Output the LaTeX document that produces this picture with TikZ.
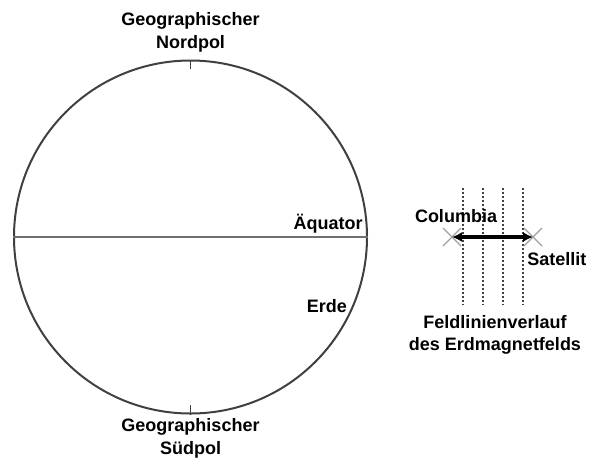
\documentclass[tikz,border=0pt]{standalone}
\usepackage{fontspec}
\setmainfont{Liberation Sans}
\usetikzlibrary{arrows.meta, positioning, calc}
\usepackage{xcolor}
\definecolor{linegray}{HTML}{404040}
\definecolor{eqgray}{HTML}{707070}
\definecolor{crossgray}{HTML}{A0A0A0}

\begin{document}
\begin{tikzpicture}[
    x=0.5pt, y=-0.5pt,
    every node/.style={font=\fontsize{9}{11.2}\selectfont\bfseries},
    lbl/.style={inner sep=0pt, align=center},
    globe/.style={circle, draw=linegray, line width=1pt, minimum size=176.5pt, inner sep=0pt},
    aequ/.style={draw=eqgray, line width=1.3pt},
    tick/.style={draw=linegray, line width=0.8pt},
    feldlinie/.style={draw=linegray, line width=1pt, densely dotted},
    cross/.style={draw=crossgray, line width=0.6pt},
    pfeil/.style={{Latex[length=5pt,width=5pt]}-{Latex[length=5pt,width=5pt]}, line width=2pt}
]
    \useasboundingbox (0,0) rectangle (589,457);

    % Erde mit Polen und Aequator
    \node[globe] (erde) at (190.5,237) {};
    \draw[aequ] (erde.west) -- (erde.east);
    \draw[tick] (erde.north) -- ++(0,9);
    \draw[tick] (erde.south) -- ++(0,-10);

    \node[lbl, above=3.5pt of erde.north] (nordpol) {Geographischer\\Nordpol};
    \node[lbl, below=2pt of erde.south]   (suedpol) {Geographischer\\Südpol};
    \node[lbl, above left=1.5pt and 2.5pt of erde.east] (aequator) {Äquator};
    \node[lbl, anchor=base east, xshift=-2pt] (erdelbl) at (erde.-25) {Erde};

    % Feldlinien und Messstrecke
    \foreach \x in {463,483,503,523}
        \draw[feldlinie] (\x,188) -- (\x,305);

    \coordinate (columbia) at (452,237);
    \coordinate (satellit) at (533,237);
    \foreach \p in {columbia,satellit}
        \draw[cross] (\p) +(-9,-9) -- +(9,9) +(-9,9) -- +(9,-9);
    \draw[pfeil] (columbia) -- (satellit);

    \node[lbl, above=7pt of columbia, xshift=2pt] (columbialbl) {Columbia};
    \node[lbl, below=7.5pt of satellit, anchor=north west, xshift=-3pt] (satellitlbl) {Satellit};
    \node[lbl, anchor=north] (feld) at (495,315) {Feldlinienverlauf\\des Erdmagnetfelds};
\end{tikzpicture}
\end{document}
